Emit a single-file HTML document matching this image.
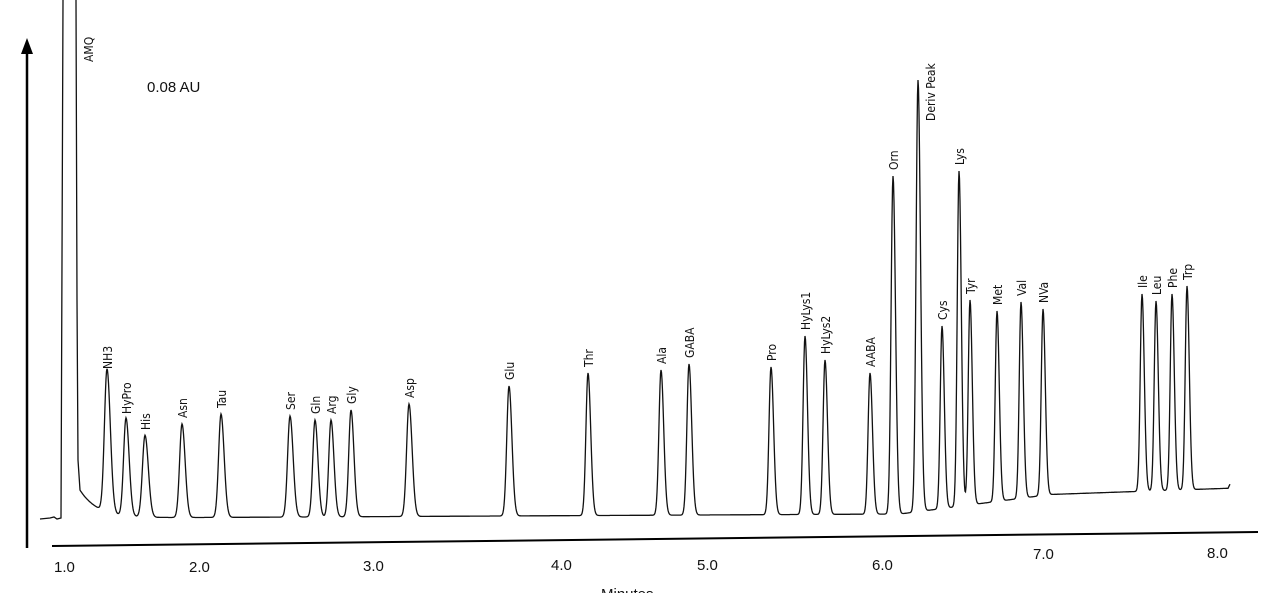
<!DOCTYPE html>
<html><head><meta charset="utf-8"><style>
html,body{margin:0;padding:0;background:#fff}
svg{display:block}
.l{font-family:"DejaVu Sans Condensed","Liberation Sans Narrow","Liberation Sans",sans-serif;font-size:12px;fill:#111}
.t{font-family:"Liberation Sans",sans-serif;font-size:15px;fill:#111}
</style></head><body>
<svg id="s" width="1280" height="593" viewBox="0 0 1280 593" xmlns="http://www.w3.org/2000/svg">
<line x1="27" y1="548" x2="27" y2="52" stroke="#000" stroke-width="2.5"/>
<polygon points="21,54 33,54 27,38" fill="#000"/>
<line x1="52" y1="546" x2="1258" y2="532" stroke="#000" stroke-width="2"/>
<text class="t" x="54" y="572">1.0</text>
<text class="t" x="189" y="572">2.0</text>
<text class="t" x="363" y="571">3.0</text>
<text class="t" x="551" y="570">4.0</text>
<text class="t" x="697" y="570">5.0</text>
<text class="t" x="872" y="570">6.0</text>
<text class="t" x="1033" y="559">7.0</text>
<text class="t" x="1207" y="558">8.0</text>
<text class="t" x="601" y="599">Minutes</text>
<text class="t" x="147" y="92">0.08 AU</text>
<path id="p" fill="none" stroke="#111" stroke-width="1.3" d=""/>
<g id="labels"></g>
</svg>
<script>
var pk=[["NH3",107,375,3.2],["HyPro",126,420,3],["His",145,436,3.2],["Asn",182,424,3],["Tau",221,414,3],["Ser",290,416,3],["Gln",315,420,2.8],["Arg",331,420,2.8],["Gly",351,410,2.8],["Asp",409,404,3],["Glu",509,386,2.8],["Thr",588,373,2.6],["Ala",661,370,2.6],["GABA",689,364,2.6],["Pro",771,367,2.5],["HyLys1",805,336,2.4],["HyLys2",825,360,2.4],["AABA",870,373,2.4],["Orn",893,176,2.4],["Deriv Peak",918,80,2.4],["Cys",942,326,2.2],["Lys",959,171,2.2],["Tyr",970,300,2.2],["Met",997,311,2.2],["Val",1021,302,2.2],["NVa",1043,309,2.2],["Ile",1142,294,2.2],["Leu",1156,301,2.2],["Phe",1172,294,2.2],["Trp",1187,286,2.2]];
function base(x){
 if(x<900) return 518-(x-100)*0.005;
 if(x<1050) return 514-(x-900)*0.13;
 return 494.5-(x-1050)*0.035;
}
var d="M40,519 L50,518 L54,517 L57,519 L61,518 L63,0 M76,0 L77,300 L78,460 L80,490 ";
var pts=[];
for(var x=80;x<=1230;x+=0.5){
 var b=base(x);
 var y=b-28*Math.exp(-(x-80)/18);
 for(var i=0;i<pk.length;i++){var p=pk[i];var h=base(p[1])-p[2];var s=p[3]*0.8;var dx=x-p[1];if(dx>0)s*=1.3;if(Math.abs(dx)<40)y-=h*Math.exp(-dx*dx/(2*s*s));}
 if(x>1228) y-=(x-1228)*2;
 pts.push(x.toFixed(1)+","+y.toFixed(1));
}
d+="L"+pts.join(" L");
document.getElementById("p").setAttribute("d",d);
var g=document.getElementById("labels"),ns="http://www.w3.org/2000/svg";
function lab(t,x,y){var e=document.createElementNS(ns,"text");e.setAttribute("class","l");e.setAttribute("transform","translate("+x+","+y+") rotate(-90)");e.textContent=t;g.appendChild(e);}
pk.forEach(function(p){ if(p[0]=="Deriv Peak") lab(p[0],935,121); else lab(p[0],p[1]+5,p[2]-6);});
lab("AMQ",93,62);
</script>
</body></html>
